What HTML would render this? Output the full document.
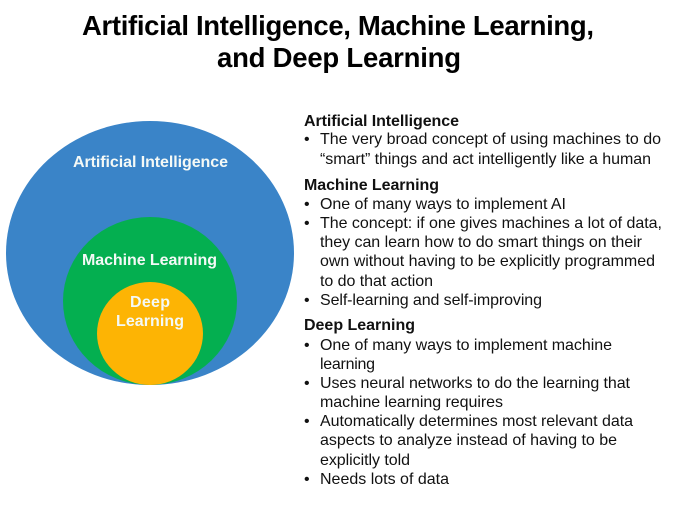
<!DOCTYPE html>
<html><head><meta charset="utf-8"><style>
html,body{margin:0;padding:0;background:#fff;width:675px;height:506px;overflow:hidden}
svg{display:block}
text{font-family:"Liberation Sans",sans-serif;fill:#111}
.h{font-weight:bold;font-size:16px}
.b{font-size:16px}
.t{font-weight:bold;font-size:27.5px;fill:#000}
.w{font-weight:bold;font-size:16px;fill:#f4f9f6}
</style></head><body>
<svg width="675" height="506" viewBox="0 0 675 506" xmlns="http://www.w3.org/2000/svg">
<rect width="675" height="506" fill="#fff"/>
<ellipse cx="150" cy="253" rx="144" ry="132" fill="#3A84C8"/>
<ellipse cx="150" cy="301" rx="87" ry="84" fill="#04AF50"/>
<ellipse cx="150" cy="333.500" rx="53" ry="51.500" fill="#FDB404"/>
<text class="t" x="82" y="35" textLength="512" lengthAdjust="spacing">Artificial Intelligence, Machine Learning,</text>
<text class="t" x="217" y="67" textLength="244" lengthAdjust="spacing">and Deep Learning</text>
<text class="w" x="73" y="167" textLength="155" lengthAdjust="spacing">Artificial Intelligence</text>
<text class="w" x="82" y="265" textLength="135" lengthAdjust="spacing">Machine Learning</text>
<text class="w" x="130" y="307" textLength="40" lengthAdjust="spacing">Deep</text>
<text class="w" x="116" y="326" textLength="68" lengthAdjust="spacing">Learning</text>
<text class="h" x="304" y="126" textLength="155" lengthAdjust="spacing">Artificial Intelligence</text>
<text class="b" x="304" y="144">•</text>
<text class="b" x="320" y="144" textLength="341" lengthAdjust="spacing">The very broad concept of using machines to do</text>
<text class="b" x="320" y="164" textLength="331" lengthAdjust="spacing">“smart” things and act intelligently like a human</text>
<text class="h" x="304" y="190" textLength="135" lengthAdjust="spacing">Machine Learning</text>
<text class="b" x="304" y="209">•</text>
<text class="b" x="320" y="209" textLength="246" lengthAdjust="spacing">One of many ways to implement AI</text>
<text class="b" x="304" y="228">•</text>
<text class="b" x="320" y="228" textLength="342" lengthAdjust="spacing">The concept: if one gives machines a lot of data,</text>
<text class="b" x="320" y="247" textLength="322" lengthAdjust="spacing">they can learn how to do smart things on their</text>
<text class="b" x="320" y="266" textLength="335" lengthAdjust="spacing">own without having to be explicitly programmed</text>
<text class="b" x="320" y="286" textLength="113" lengthAdjust="spacing">to do that action</text>
<text class="b" x="304" y="305">•</text>
<text class="b" x="320" y="305" textLength="222" lengthAdjust="spacing">Self-learning and self-improving</text>
<text class="h" x="304" y="330" textLength="111" lengthAdjust="spacing">Deep Learning</text>
<text class="b" x="304" y="350">•</text>
<text class="b" x="320" y="350" textLength="292" lengthAdjust="spacing">One of many ways to implement machine</text>
<text class="b" x="320" y="369" textLength="55" lengthAdjust="spacing">learning</text>
<text class="b" x="304" y="388">•</text>
<text class="b" x="320" y="388" textLength="310" lengthAdjust="spacing">Uses neural networks to do the learning that</text>
<text class="b" x="320" y="407" textLength="183" lengthAdjust="spacing">machine learning requires</text>
<text class="b" x="304" y="426">•</text>
<text class="b" x="320" y="426" textLength="313" lengthAdjust="spacing">Automatically determines most relevant data</text>
<text class="b" x="320" y="445" textLength="297" lengthAdjust="spacing">aspects to analyze instead of having to be</text>
<text class="b" x="320" y="465" textLength="90" lengthAdjust="spacing">explicitly told</text>
<text class="b" x="304" y="484">•</text>
<text class="b" x="320" y="484" textLength="129" lengthAdjust="spacing">Needs lots of data</text>
</svg>
</body></html>
